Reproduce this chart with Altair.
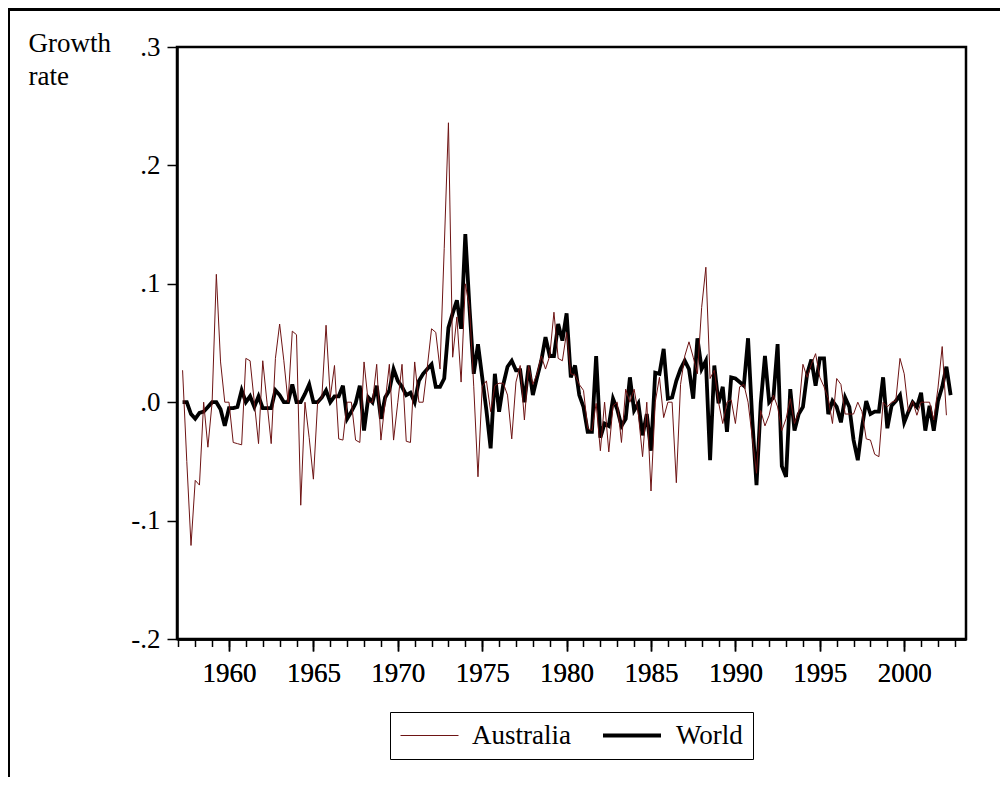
import altair as alt
import pandas as pd

# Quarterly growth rates, first observation 1957Q2
start_period = "1957Q2"

australia = [
    0.027, -0.05, -0.121, -0.066, -0.070, 0.0, -0.038, 0.0, 0.108, 0.034,
    0.0, 0.0, -0.034, -0.035, -0.036, 0.037, 0.035, 0.0, -0.035, 0.035,
    0.0, -0.035, 0.037, 0.066, 0.035, 0.0, 0.06, 0.057, -0.087, 0.0,
    -0.03, -0.065, 0.0, 0.004, 0.065, 0.004, 0.031, -0.031, -0.032, 0.0,
    0.0, -0.032, -0.034, 0.034, 0.0, 0.0, 0.032, -0.032, 0.0, 0.032,
    -0.032, 0.0, 0.032, -0.033, -0.034, 0.034, 0.0, 0.0, 0.03, 0.062,
    0.059, 0.028, 0.13, 0.236, 0.038, 0.072, 0.017, 0.1, 0.08, 0.013,
    -0.063, 0.013, 0.018, -0.008, 0.014, 0.016, 0.016, 0.006, -0.031, 0.017,
    0.031, -0.015, 0.031, 0.015, 0.024, 0.039, 0.028, 0.039, 0.076, 0.037,
    0.035, 0.059, 0.024, 0.023, 0.015, 0.01, -0.022, -0.024, -0.001, -0.041,
    0.0, -0.042, -0.003, 0.0, -0.034, 0.011, 0.0, 0.011, -0.01, -0.046,
    0.0, -0.075, 0.0, 0.021, -0.013, 0.0, 0.0, -0.068, 0.015, 0.039,
    0.051, 0.038, 0.024, 0.08, 0.114, 0.02, 0.027, 0.0, -0.018, 0.0,
    0.002, -0.018, 0.013, 0.015, 0.0, -0.03, -0.06, -0.007, -0.02, -0.011,
    0.006, -0.004, -0.024, -0.014, 0.003, -0.018, -0.008, 0.032, 0.021, 0.032,
    0.041, 0.021, 0.013, 0.003, -0.018, 0.02, 0.015, -0.01, -0.01, -0.01,
    0.0, -0.008, -0.031, -0.032, -0.044, -0.046, 0.0, -0.004, 0.0, 0.001,
    0.037, 0.024, -0.008, 0.001, -0.011, 0.0, 0.0, 0.0, -0.015, 0.012,
    0.047, -0.011, None,
]

world = [
    0.0, 0.0, -0.01, -0.014, -0.009, -0.008, -0.004, 0.0, 0.0, -0.006,
    -0.02, -0.005, -0.005, -0.004, 0.01, 0.0, 0.005, -0.004, 0.005, -0.005,
    -0.005, -0.005, 0.01, 0.006, 0.0, 0.0, 0.015, 0.0, 0.0, 0.007,
    0.015, 0.0, 0.0, 0.004, 0.01, 0.0, 0.005, 0.005, 0.014, -0.014,
    -0.008, -0.001, 0.014, -0.024, 0.004, 0.0, 0.014, -0.014, 0.004, 0.01,
    0.028, 0.018, 0.013, 0.006, 0.008, 0.0, 0.018, 0.024, 0.028, 0.032,
    0.013, 0.013, 0.02, 0.063, 0.075, 0.086, 0.062, 0.142, 0.079, 0.024,
    0.049, 0.021, -0.007, -0.039, 0.024, -0.008, 0.015, 0.03, 0.035, 0.027,
    0.027, 0.0, 0.031, 0.006, 0.021, 0.035, 0.055, 0.039, 0.039, 0.066,
    0.052, 0.075, 0.021, 0.031, 0.006, -0.004, -0.025, -0.025, 0.039, -0.03,
    -0.018, -0.02, 0.003, -0.006, -0.02, -0.014, 0.021, -0.007, -0.001, -0.028,
    -0.01, -0.041, 0.025, 0.024, 0.045, 0.003, 0.004, 0.018, 0.028, 0.035,
    0.028, 0.003, 0.054, 0.028, 0.035, -0.049, 0.031, -0.001, 0.013, -0.025,
    0.021, 0.02, 0.017, 0.014, 0.054, -0.015, -0.07, -0.001, 0.039, 0.0,
    0.004, 0.049, -0.054, -0.063, 0.011, -0.024, -0.01, -0.004, 0.024, 0.036,
    0.014, 0.037, 0.037, -0.01, 0.001, -0.004, -0.017, 0.004, -0.004, -0.032,
    -0.049, -0.021, 0.001, -0.01, -0.008, -0.008, 0.021, -0.022, -0.003, 0.001,
    0.006, -0.017, -0.008, 0.0, -0.004, 0.008, -0.024, -0.003, -0.024, 0.001,
    0.013, 0.03, 0.006,
]

series_names = ["Australia", "World"]
series_colors = ["#6e1414", "#000000"]
series_widths = [1.0, 3.8]

major_years = [1960, 1965, 1970, 1975, 1980, 1985, 1990, 1995, 2000]
minor_years = list(range(1957, 2004))
y_ticks = [-0.2, -0.1, 0.0, 0.1, 0.2, 0.3]

periods = pd.period_range(start_period, periods=len(world), freq="Q")
t = [p.year + (p.quarter - 1) / 4 for p in periods]

rows = []
for name, vals in (("World", world), ("Australia", australia)):
    for tt, v in zip(t, vals):
        if v is not None:
            rows.append({"t": tt, "v": v, "series": name})
df = pd.DataFrame(rows)

FONT = "Liberation Serif"
W, H = 789, 592

x_scale = alt.Scale(domain=[1956.92, 2003.66], nice=False, zero=False)
y_scale = alt.Scale(domain=[-0.2, 0.3], nice=False, zero=False)

x_major = alt.Axis(
    values=major_years, format="d", tickSize=12, labelPadding=9,
    labelFontSize=27, labelFont=FONT, grid=False, title=None,
    orient="bottom", labelFlush=False, labelOverlap=False,
)
x_minor = alt.Axis(
    values=minor_years, tickSize=7.5, labels=False, domain=False,
    grid=False, title=None, orient="bottom",
)
y_axis = alt.Axis(
    values=y_ticks, tickSize=10, labelPadding=7, labelFontSize=27,
    labelFont=FONT, grid=False,
    labelExpr="(datum.value < -0.0001 ? '-' : '') + '.' + toString(round(abs(datum.value) * 10))",
    title=["Growth", "rate"], titleAngle=0, titleX=-149, titleY=4,
    titleAlign="left", titleBaseline="alphabetic", titleFontSize=27,
    titleFont=FONT, titleFontWeight="normal", titleLineHeight=33,
    titleColor="black",
)

legend = alt.Legend(
    title=None, orient="none", legendX=213, legendY=665,
    direction="horizontal", symbolType="stroke", symbolSize=3364,
    clipHeight=27, labelFontSize=27, labelFont=FONT, labelColor="black",
    labelOffset=13, columnPadding=30, padding=10, strokeColor="black",
    fillColor="white",
)

color = alt.Color("series:N", scale=alt.Scale(domain=series_names, range=series_colors), legend=legend)
swidth = alt.StrokeWidth("series:N", scale=alt.Scale(domain=series_names, range=series_widths), legend=legend)

base = alt.Chart(df)

world_line = base.transform_filter(alt.datum.series == "World").mark_line().encode(
    x=alt.X("t:Q", scale=x_scale, axis=x_major),
    y=alt.Y("v:Q", scale=y_scale, axis=y_axis),
    color=color,
    strokeWidth=swidth,
)
aus_line = base.transform_filter(alt.datum.series == "Australia").mark_line().encode(
    x=alt.X("t:Q", scale=x_scale, axis=x_major),
    y=alt.Y("v:Q", scale=y_scale, axis=y_axis),
    color=color,
    strokeWidth=swidth,
)

minor = base.mark_point(opacity=0).encode(
    x=alt.X("t:Q", scale=x_scale, axis=x_minor),
    y=alt.value(0),
)

frame_df = pd.DataFrame({"k": [0]})
top_rule = alt.Chart(frame_df).mark_rule(color="black", strokeWidth=3).encode(
    x=alt.value(-169), x2=alt.value(830), y=alt.value(-37.5)
)
left_rule = alt.Chart(frame_df).mark_rule(color="black", strokeWidth=2).encode(
    x=alt.value(-168), y=alt.value(-39), y2=alt.value(740)
)

chart = (
    alt.layer(world_line, aus_line, minor, top_rule, left_rule)
    .resolve_axis(x="independent")
    .properties(
        width=W, height=H,
        autosize=alt.AutoSizeParams(type="none"),
        padding={"left": 169, "top": 39, "right": 34, "bottom": 138},
        background="white",
    )
    .configure_view(stroke="black", strokeWidth=2.5)
    .configure_axis(
        domainColor="black", domainWidth=2.5, tickColor="black",
        tickWidth=1.5, labelColor="black",
    )
)

chart.save("out.html", embed_options={"renderer": "svg", "actions": False})
